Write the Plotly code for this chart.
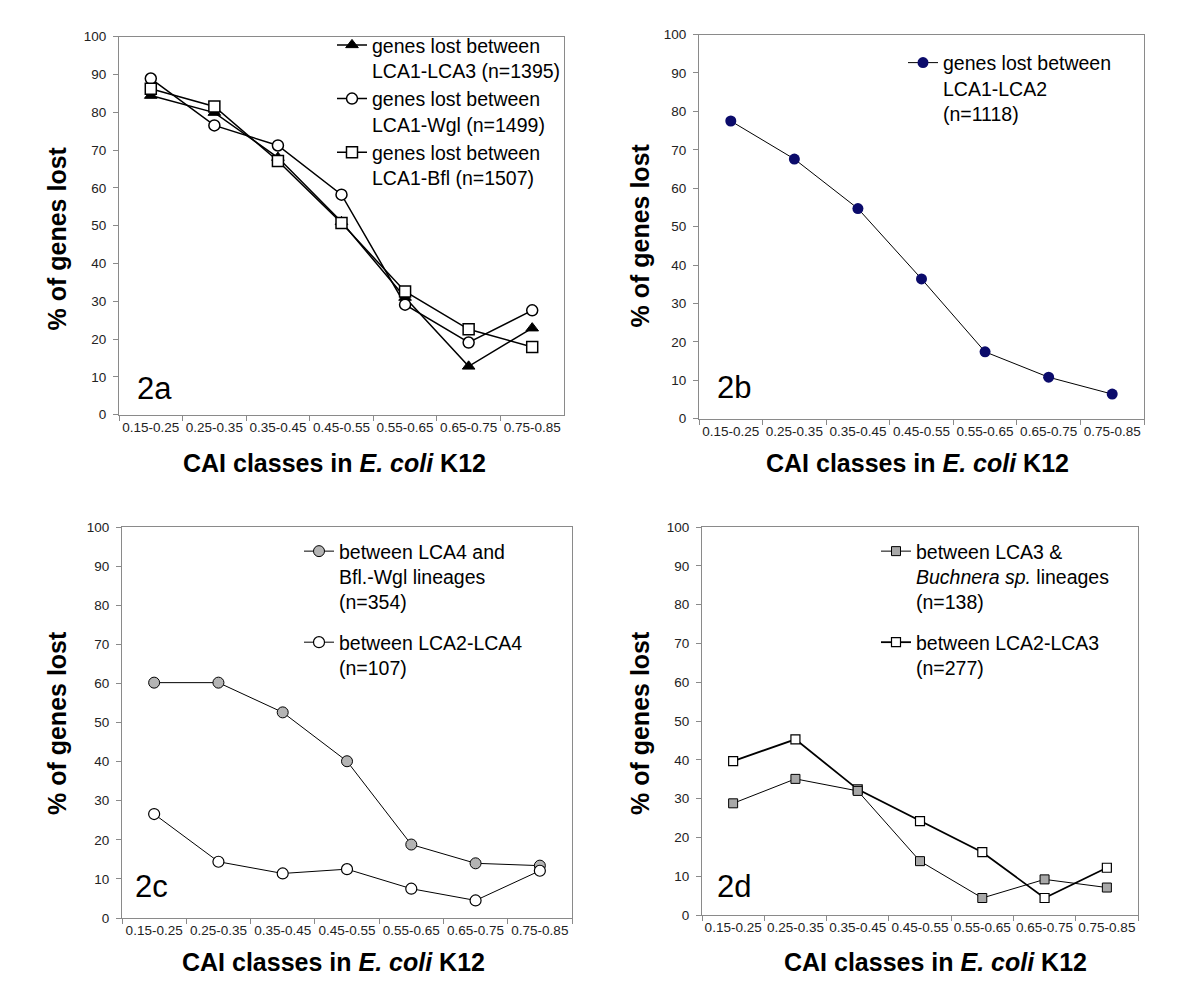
import plotly.graph_objects as go

# ---------------- data ----------------
cai_classes = ["0.15-0.25", "0.25-0.35", "0.35-0.45", "0.45-0.55",
               "0.55-0.65", "0.65-0.75", "0.75-0.85"]

# panel 2a
a_lca1_lca3 = [84.4, 79.9, 68.0, 51.0, 31.0, 12.8, 22.9]
a_lca1_wgl = [88.9, 76.5, 71.2, 58.2, 29.1, 19.1, 27.6]
a_lca1_bfl = [86.2, 81.5, 67.1, 50.7, 32.6, 22.6, 17.9]
# panel 2b
b_lca1_lca2 = [77.5, 67.6, 54.7, 36.4, 17.4, 10.8, 6.4]
# panel 2c
c_lca4_bfl_wgl = [60.2, 60.2, 52.6, 40.1, 18.8, 14.0, 13.4]
c_lca2_lca4 = [26.6, 14.4, 11.4, 12.5, 7.5, 4.5, 12.1]
# panel 2d
d_lca3_buchnera = [28.8, 35.1, 32.0, 13.9, 4.4, 9.2, 7.1]
d_lca2_lca3 = [39.7, 45.3, 32.4, 24.2, 16.2, 4.4, 12.2]

names_a = ["genes lost between<br>LCA1-LCA3 (n=1395)",
           "genes lost between<br>LCA1-Wgl (n=1499)",
           "genes lost between<br>LCA1-Bfl (n=1507)"]
names_b = ["genes lost between<br>LCA1-LCA2<br>(n=1118)"]
names_c = ["between LCA4 and<br>Bfl.-Wgl lineages<br>(n=354)",
           "between LCA2-LCA4<br>(n=107)"]
names_d = ["between LCA3 &amp;<br><i>Buchnera sp.</i> lineages<br>(n=138)",
           "between LCA2-LCA3<br>(n=277)"]
panel_labels = ["2a", "2b", "2c", "2d"]
x_title = "<b>CAI classes in <i>E. coli</i> K12</b>"
y_title = "<b>% of genes lost</b>"

FONT = "Liberation Sans, Arial, sans-serif"
W, H = 1200, 994


def px(x):
    return x / W


def py(y):
    return 1 - y / H


fig = go.Figure()


def add(y, name, axis_suffix, legend, symbol, fill, lw, msize, mlw=1.5, rank=1000):
    fig.add_trace(go.Scatter(
        x=cai_classes, y=y, name=name, mode="lines+markers",
        xaxis="x" + axis_suffix, yaxis="y" + axis_suffix, legend=legend,
        legendgroup=name, legendrank=rank,
        line=dict(color="black", width=lw),
        marker=dict(symbol=symbol, color=fill, size=msize,
                    line=dict(color="black", width=mlw)),
    ))


# panel a
add(a_lca1_lca3, names_a[0], "", "legend", "triangle-up", "black", 1.5, 11, 1, 1)
add(a_lca1_wgl, names_a[1], "", "legend", "circle", "white", 1.5, 11, 1.5, 2)
add(a_lca1_bfl, names_a[2], "", "legend", "square", "white", 1.5, 11, 1.5, 3)
# panel b
add(b_lca1_lca2, names_b[0], "2", "legend2", "circle", "#0b0b6b", 1, 11, 0, 1)
# panel c
add(c_lca4_bfl_wgl, names_c[0], "3", "legend3", "circle", "#b4b4b4", 1, 11, 1, 1)
add(c_lca2_lca4, names_c[1], "3", "legend3", "circle", "white", 1, 11, 1.2, 2)
# panel d
add(d_lca2_lca3, names_d[1], "4", "legend4", "square", "white", 1.8, 9, 1.2, 2)
add(d_lca3_buchnera, names_d[0], "4", "legend4", "square", "#a8a8a8", 1, 9, 1, 1)

# domains (pixel boxes of each plot area)
boxes = {
    "": (119, 564, 30, 414),
    "2": (699, 1144, 28, 418),
    "3": (122, 572, 528, 925),
    "4": (702, 1138, 528, 922),
}
axis_common = dict(showline=True, linecolor="#8a8a8a", linewidth=1, mirror=True,
                   ticks="outside", ticklen=5, tickcolor="#8a8a8a",
                   showgrid=False, zeroline=False,
                   tickfont=dict(family=FONT, size=13.5, color="#222"))
layout = dict(width=W, height=H, margin=dict(l=0, r=0, t=0, b=0),
              paper_bgcolor="white", plot_bgcolor="white",
              font=dict(family=FONT, color="black"))
for i, (k, (x0, x1, y0, y1)) in enumerate(boxes.items()):
    xa = dict(axis_common, domain=[px(x0), px(x1)], type="category",
              range=[-0.5, 6.5], tickson="boundaries", tickangle=0,
              anchor="y" + k)
    ya = dict(axis_common, domain=[py(y1), py(y0)], range=[0, 100],
              dtick=10, anchor="x" + k, ticklabelstandoff=4)
    layout["xaxis" + k] = xa
    layout["yaxis" + k] = ya

legend_common = dict(font=dict(family=FONT, size=19.5, color="black"),
                     bgcolor="rgba(0,0,0,0)", valign="top",
                     traceorder="grouped", xanchor="left", yanchor="top",
                     itemwidth=30)
layout["legend"] = dict(legend_common, x=px(332), y=py(19), tracegroupgap=0)
layout["legend2"] = dict(legend_common, x=px(903), y=py(37))
layout["legend3"] = dict(legend_common, x=px(299), y=py(533), tracegroupgap=12)
layout["legend4"] = dict(legend_common, x=px(876), y=py(533), tracegroupgap=12)

annotations = []
title_pos = [((334, 463), (57, 235)), ((917, 463), (640, 232)),
             ((333, 970), (57, 727)), ((935, 970), (640, 727))]
label_pos = [(135, 387), (715, 386), (133, 893), (715, 893)]
for (xt, yt), lab, lp in zip(title_pos, panel_labels, label_pos):
    annotations.append(dict(text=x_title, x=px(xt[0]), y=py(xt[1]), xref="paper",
                            yref="paper", showarrow=False, xanchor="center",
                            yanchor="middle", font=dict(family=FONT, size=25)))
    annotations.append(dict(text=y_title, x=px(yt[0]), y=py(yt[1]), xref="paper",
                            yref="paper", showarrow=False, xanchor="center",
                            yanchor="middle", textangle=-90,
                            font=dict(family=FONT, size=25)))
    annotations.append(dict(text=lab, x=px(lp[0]), y=py(lp[1]), xref="paper",
                            yref="paper", showarrow=False, xanchor="left",
                            yanchor="middle", font=dict(family=FONT, size=31)))
layout["annotations"] = annotations
fig.update_layout(**layout)

fig.write_html("out.html", config={"displayModeBar": False},
               post_script="document.body.style.margin='0';")
